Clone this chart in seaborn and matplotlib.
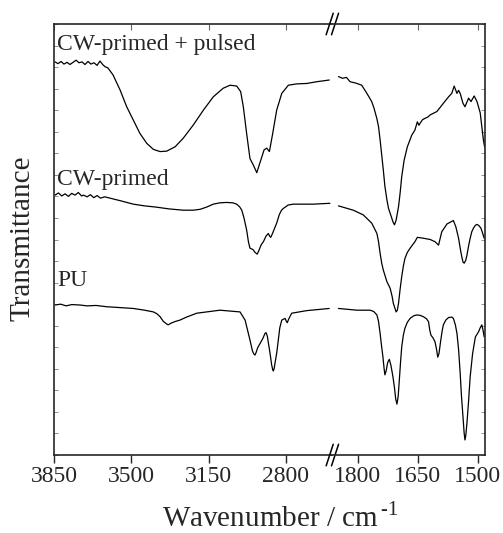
import numpy as np
import pandas as pd
import seaborn as sns
import matplotlib.pyplot as plt
from matplotlib.ticker import MultipleLocator

# ---- spectra (wavenumber, transmittance in a.u.) ----
# CW-primed + pulsed
pulsed_wn_hi = [3845, 3832, 3818, 3805, 3791, 3778, 3764, 3750, 3737, 3723, 3710, 3696,
                3683, 3669, 3655, 3642, 3628, 3619, 3606, 3583, 3551, 3521, 3491, 3461,
                3430, 3400, 3370, 3340, 3302, 3265, 3219, 3174, 3129, 3084, 3053, 3023,
                3005, 2993, 2978, 2963, 2948, 2932, 2914, 2899, 2887, 2875, 2860, 2842,
                2819, 2789, 2751, 2706, 2661, 2604]
pulsed_t_hi = [91.2, 90.8, 91.3, 90.7, 91.1, 90.6, 91.1, 91.6, 91.0, 91.2, 90.6, 91.3,
               90.7, 91.0, 90.4, 91.4, 90.5, 90.1, 89.8, 88.2, 84.7, 80.8, 77.7, 74.6,
               72.3, 70.9, 70.4, 70.5, 71.5, 73.5, 76.6, 80.0, 83.1, 85.1, 85.8, 85.6,
               84.3, 80.8, 74.6, 68.8, 67.3, 65.5, 68.4, 70.8, 71.2, 70.4, 74.6, 80.0,
               83.9, 85.8, 86.1, 86.2, 86.6, 87.0]
pulsed_wn_lo = [1848, 1838, 1828, 1819, 1805, 1790, 1777, 1765, 1759, 1752, 1748, 1744,
                1740, 1736, 1732, 1727, 1723, 1715, 1712, 1708, 1704, 1698, 1694, 1690,
                1684, 1676, 1665, 1657, 1651, 1647, 1644, 1638, 1632, 1625, 1619, 1602,
                1586, 1573, 1565, 1559, 1552, 1548, 1544, 1537, 1532, 1523, 1517, 1509,
                1502, 1494, 1486, 1483]
pulsed_t_lo = [87.8, 87.4, 87.6, 86.6, 86.3, 85.8, 83.9, 82.0, 80.4, 78.0, 76.2, 73.1,
               69.6, 66.1, 62.3, 59.2, 57.2, 55.0, 54.1, 53.4, 54.5, 57.6, 60.8, 64.6,
               68.4, 71.5, 74.2, 75.4, 77.3, 76.5, 77.0, 77.8, 78.1, 78.4, 78.9, 79.7,
               81.6, 83.1, 83.9, 85.6, 83.9, 84.6, 83.9, 81.6, 80.8, 82.8, 82.0, 83.3,
               82.0, 79.4, 73.1, 71.5]

# CW-primed
primed_wn_hi = [3845, 3830, 3815, 3800, 3785, 3770, 3755, 3740, 3725, 3717, 3700, 3685,
                3670, 3655, 3640, 3620, 3597, 3550, 3491, 3440, 3385, 3330, 3265, 3220,
                3189, 3160, 3129, 3100, 3068, 3040, 3023, 3010, 3000, 2990, 2978, 2970,
                2963, 2955, 2948, 2940, 2930, 2922, 2912, 2902, 2890, 2880, 2874, 2869,
                2860, 2850, 2842, 2830, 2820, 2812, 2790, 2767, 2676, 2601]
primed_t_hi = [60.3, 60.8, 60.1, 60.6, 60.0, 60.7, 60.3, 60.9, 60.1, 60.3, 59.9, 60.4,
               59.7, 60.2, 59.6, 59.9, 59.6, 59.0, 58.2, 57.8, 57.5, 57.1, 56.8, 56.8,
               57.0, 57.5, 58.2, 58.5, 58.6, 58.5, 58.2, 57.6, 56.8, 55.0, 52.2, 49.5,
               48.0, 47.8, 47.6, 47.0, 46.6, 47.5, 48.8, 49.5, 50.8, 51.4, 50.8, 50.5,
               51.5, 52.8, 53.8, 55.8, 56.8, 57.2, 58.0, 58.2, 58.2, 58.4]
primed_wn_lo = [1848, 1811, 1786, 1765, 1752, 1748, 1744, 1740, 1736, 1727, 1719, 1714,
                1711, 1704, 1701, 1698, 1694, 1690, 1686, 1682, 1676, 1669, 1657, 1651,
                1636, 1619, 1607, 1598, 1590, 1577, 1561, 1555, 1548, 1544, 1540, 1537,
                1534, 1530, 1527, 1523, 1519, 1515, 1511, 1506, 1502, 1497, 1492, 1488,
                1484]
primed_t_lo = [57.8, 56.8, 55.7, 53.8, 51.4, 49.5, 46.8, 44.5, 42.9, 40.2, 38.7, 36.8,
               35.2, 33.2, 33.6, 35.2, 38.5, 41.4, 43.8, 45.6, 47.0, 48.0, 49.5, 50.5,
               50.3, 50.0, 49.5, 48.7, 51.8, 53.6, 54.4, 53.0, 50.3, 48.0, 46.0, 44.8,
               44.5, 45.2, 46.4, 48.5, 50.3, 51.8, 52.6, 53.3, 53.5, 53.2, 52.6, 51.5,
               50.3]

# PU
pu_wn_hi = [3845, 3820, 3795, 3770, 3732, 3700, 3660, 3611, 3550, 3491, 3440, 3400,
            3385, 3370, 3355, 3340, 3333, 3320, 3300, 3280, 3250, 3204, 3099, 3008,
            2985, 2974, 2963, 2952, 2945, 2940, 2935, 2928, 2917, 2905, 2895, 2890,
            2884, 2878, 2872, 2865, 2860, 2857, 2853, 2848, 2842, 2835, 2828, 2819,
            2804, 2798, 2794, 2788, 2774, 2706, 2604]
pu_t_hi = [34.8, 35.0, 34.6, 34.9, 34.8, 34.6, 34.7, 34.4, 34.2, 34.0, 33.6, 33.2,
           32.8, 32.1, 31.0, 30.4, 30.2, 30.6, 31.0, 31.3, 32.0, 32.9, 33.6, 33.2,
           31.3, 29.0, 26.7, 24.2, 23.4, 23.2, 23.8, 24.9, 25.9, 27.0, 28.2, 28.4,
           27.5, 25.5, 23.6, 21.0, 19.8, 19.5, 20.2, 21.8, 23.6, 26.5, 29.5, 31.3,
           31.7, 31.0, 30.7, 31.5, 32.9, 33.5, 34.0]
pu_wn_lo = [1848, 1802, 1769, 1760, 1752, 1748, 1744, 1740, 1737, 1734, 1732, 1729,
            1725, 1721, 1717, 1712, 1708, 1705, 1702, 1699, 1696, 1693, 1690, 1686,
            1682, 1676, 1669, 1660, 1652, 1644, 1636, 1628, 1623, 1620, 1617, 1612,
            1607, 1603, 1600, 1597, 1593, 1589, 1586, 1580, 1573, 1565, 1561, 1556,
            1552, 1548, 1544, 1541, 1537, 1534, 1532, 1530, 1527, 1523, 1519, 1513,
            1506, 1498, 1494, 1490, 1487, 1484]
pu_t_lo = [34.0, 33.6, 33.6, 33.3, 32.5, 31.0, 28.2, 25.0, 22.8, 20.0, 18.6, 19.5,
           21.5, 22.2, 20.8, 18.2, 15.5, 13.0, 11.8, 13.5, 17.4, 21.5, 25.1, 27.8,
           29.4, 30.8, 31.7, 32.3, 32.5, 32.4, 32.1, 31.6, 30.9, 29.0, 27.8, 27.2,
           26.3, 24.5, 22.7, 23.5, 26.3, 28.8, 30.2, 31.3, 31.9, 32.0, 31.7, 30.2,
           28.2, 24.5, 19.0, 14.0, 8.9, 5.0, 3.5, 4.5, 7.5, 12.5, 18.2, 23.5,
           27.4, 28.6, 29.5, 30.2, 29.0, 27.4]

sample_names = ["CW-primed + pulsed", "CW-primed", "PU"]
label_t = [94.0, 62.6, 39.2]

hi_ticks = [3850, 3500, 3150, 2800]
lo_ticks = [1800, 1650, 1500]

sns.set_style("ticks")
plt.rcParams["font.family"] = ["Liberation Serif", "DejaVu Serif"]
plt.rcParams["mathtext.fontset"] = "custom"
plt.rcParams["mathtext.rm"] = "Liberation Serif"

fig = plt.figure(figsize=(5.03, 5.33), dpi=100)
ax1 = fig.add_axes([0.1074, 0.1463, 0.552, 0.8087])
ax2 = fig.add_axes([0.6594, 0.1463, 0.3048, 0.8087], sharey=ax1)

hi = [(pulsed_wn_hi, pulsed_t_hi), (primed_wn_hi, primed_t_hi), (pu_wn_hi, pu_t_hi)]
lo = [(pulsed_wn_lo, pulsed_t_lo), (primed_wn_lo, primed_t_lo), (pu_wn_lo, pu_t_lo)]
for ax, part in [(ax1, hi), (ax2, lo)]:
    for wx, ty in part:
        df = pd.DataFrame({"wn": wx, "T": ty})
        sns.lineplot(data=df, x="wn", y="T", ax=ax, color="black", lw=0.9,
                     estimator=None, sort=False)

ax1.set_xlim(3850, 2593)
ax2.set_xlim(1865, 1482)
ax1.set_ylim(0, 100)

for ax, ticks in [(ax1, hi_ticks), (ax2, lo_ticks)]:
    ax.set_xticks(ticks)
    ax.set_xticklabels([str(t) for t in ticks])
    ax.set_xlabel("")
    ax.set_ylabel("")
    ax.tick_params(axis="x", which="major", direction="out", length=6, width=1,
                   labelsize=17, bottom=True, top=False, pad=2)
    ax.tick_params(axis="y", which="both", direction="in", length=3, width=0.6,
                   color="0.5", labelleft=False, labelright=False)
    ax.yaxis.set_major_locator(MultipleLocator(5))
    for s in ax.spines.values():
        s.set_linewidth(1.2)
    # inward ticks on the top spine
    sec = ax.secondary_xaxis("top")
    sec.set_xticks(ticks)
    sec.tick_params(direction="in", length=4, width=0.8, color="0.4", labeltop=False)
    sec.spines["top"].set_visible(False)

ax1.spines["right"].set_visible(False)
ax2.spines["left"].set_visible(False)
ax1.tick_params(axis="y", left=True, right=False)
ax2.tick_params(axis="y", left=False, right=True)

for name, ty in zip(sample_names, label_t):
    ax1.text(3835, ty, name, fontsize=17, ha="left", va="baseline")

# axis break marks
for yb in (0, 1):
    for xc in (-0.013, 0.022):
        ax2.plot([xc - 0.023, xc + 0.023], [yb - 0.025, yb + 0.025],
                 transform=ax2.transAxes, color="black", lw=1.1, clip_on=False)

fig.text(0.557, 0.012, r"Wavenumber / cm$^{\,\text{-}1}$", fontsize=21,
         ha="center", va="baseline")
fig.text(0.045, 0.5535, "Transmittance", fontsize=21, rotation=90,
         ha="center", va="center")

fig.savefig("out.png", dpi=100)
